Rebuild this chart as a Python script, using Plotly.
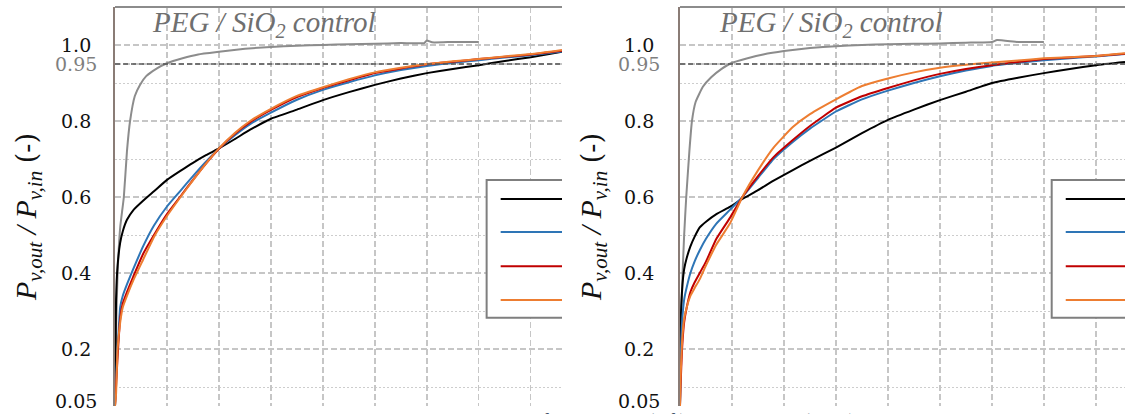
import plotly.graph_objects as go

W, H = 1125, 414

# ---------------- data ----------------
# x in grid units (one vertical grid line per unit)
# Left panel: sample 1
l_ctrl_x = [0, 0.02, 0.05, 0.1, 0.17, 0.23, 0.29, 0.38, 0.48, 0.6, 0.8, 1.0, 1.3, 1.6, 2.0, 2.5, 3.0, 3.5, 4.0, 4.5, 5.0, 5.5, 5.95, 6.0, 6.1, 6.5, 7.0]
l_ctrl_y = [0.05, 0.25, 0.40, 0.52, 0.60, 0.72, 0.80, 0.865, 0.895, 0.918, 0.938, 0.952, 0.965, 0.975, 0.982, 0.99, 0.995, 0.998, 1.0, 1.002, 1.003, 1.005, 1.005, 1.012, 1.007, 1.008, 1.008]

l_x = [0, 0.02, 0.05, 0.1, 0.15, 0.23, 0.35, 0.54, 0.75, 1.0, 1.25, 1.5, 1.75, 2.0, 2.3, 2.6, 3.0, 3.5, 4.0, 4.5, 5.0, 5.5, 6.0, 6.5, 7.0, 7.5, 8.0, 8.6]
l_black = [0.05, 0.33, 0.42, 0.48, 0.51, 0.54, 0.565, 0.59, 0.615, 0.645, 0.668, 0.69, 0.71, 0.728, 0.752, 0.777, 0.806, 0.83, 0.855, 0.876, 0.895, 0.912, 0.926, 0.937, 0.947, 0.958, 0.968, 0.982]
l_blue = [0.05, 0.12, 0.20, 0.31, 0.34, 0.37, 0.41, 0.47, 0.525, 0.575, 0.615, 0.655, 0.693, 0.727, 0.762, 0.792, 0.822, 0.856, 0.882, 0.902, 0.92, 0.934, 0.945, 0.953, 0.96, 0.967, 0.973, 0.983]
l_red = [0.05, 0.10, 0.18, 0.28, 0.32, 0.35, 0.39, 0.45, 0.50, 0.555, 0.60, 0.645, 0.688, 0.727, 0.766, 0.797, 0.829, 0.863, 0.887, 0.907, 0.926, 0.938, 0.949, 0.956, 0.963, 0.969, 0.975, 0.985]
l_orange = [0.05, 0.08, 0.20, 0.27, 0.31, 0.34, 0.38, 0.435, 0.495, 0.55, 0.598, 0.644, 0.688, 0.728, 0.768, 0.80, 0.832, 0.866, 0.889, 0.91, 0.928, 0.94, 0.95, 0.957, 0.963, 0.97, 0.976, 0.987]

# Right panel: sample 2
r_ctrl_x = [0, 0.02, 0.05, 0.08, 0.12, 0.18, 0.23, 0.3, 0.44, 0.6, 0.8, 0.98, 1.3, 1.6, 2.0, 2.5, 3.0, 3.5, 4.0, 4.5, 5.0, 5.5, 6.0, 6.1, 6.5, 7.0]
r_ctrl_y = [0.05, 0.25, 0.40, 0.50, 0.60, 0.72, 0.80, 0.85, 0.89, 0.915, 0.937, 0.952, 0.965, 0.975, 0.984, 0.992, 0.997, 1.0, 1.002, 1.003, 1.004, 1.006, 1.008, 1.013, 1.008, 1.008]

r_x = [0, 0.01, 0.04, 0.08, 0.13, 0.2, 0.28, 0.38, 0.5, 0.7, 0.96, 1.2, 1.5, 1.8, 2.17, 2.5, 3.0, 3.5, 4.0, 4.5, 5.0, 5.5, 6.0, 6.5, 7.0, 7.5, 8.0, 8.56]
r_black = [0.05, 0.25, 0.355, 0.41, 0.44, 0.47, 0.495, 0.52, 0.535, 0.555, 0.574, 0.595, 0.618, 0.643, 0.671, 0.695, 0.73, 0.768, 0.803, 0.83, 0.855, 0.877, 0.90, 0.914, 0.926, 0.937, 0.947, 0.955]
r_blue = [0.05, 0.15, 0.27, 0.33, 0.363, 0.40, 0.43, 0.46, 0.49, 0.53, 0.566, 0.60, 0.65, 0.70, 0.745, 0.78, 0.825, 0.857, 0.88, 0.90, 0.918, 0.933, 0.945, 0.953, 0.96, 0.965, 0.97, 0.976]
r_red = [0.05, 0.10, 0.20, 0.27, 0.31, 0.35, 0.375, 0.40, 0.43, 0.49, 0.545, 0.60, 0.655, 0.705, 0.75, 0.787, 0.835, 0.865, 0.887, 0.907, 0.924, 0.937, 0.947, 0.955, 0.963, 0.967, 0.971, 0.977]
r_orange = [0.05, 0.12, 0.22, 0.28, 0.31, 0.34, 0.36, 0.384, 0.42, 0.475, 0.53, 0.60, 0.67, 0.73, 0.784, 0.818, 0.857, 0.892, 0.912, 0.928, 0.94, 0.948, 0.954, 0.959, 0.965, 0.968, 0.971, 0.978]

y_tick_vals = [1.0, 0.95, 0.8, 0.6, 0.4, 0.2, 0.05]
y_tick_text = ["1.0", "0.95", "0.8", "0.6", "0.4", "0.2", "0.05"]
y_minor_vals = [0.1, 0.3, 0.5, 0.7, 0.9]
legend_rows = [0.595, 0.508, 0.418, 0.329]

title_text = "PEG / SiO<sub>2</sub> control"
ylabel = ("<i>P</i><sub><i>v,out</i></sub><i> / P</i><sub><i>v,in</i></sub> "
          "<span style='font-family:DejaVu Serif;font-size:27px'>(-)</span>")
caption = "Fig. 15. Water vapour breakthrough curves for sample 1 (left) and sample 2 (right)"

BLACK, BLUE, RED, ORANGE, GRAY = "#000000", "#2e75b6", "#c00000", "#ed7d31", "#8c8c8c"
SERIF_IT = "serif"          # italic serif
SERIF_UP = "DejaVu Serif"   # upright serif

# ---------------- figure ----------------
fig = go.Figure()

def add_panel(xa, ya, cx, cy, xs, blk, blu, red, ora):
    fig.add_trace(go.Scatter(x=cx, y=cy, mode="lines", line=dict(color=GRAY, width=2, shape="spline", smoothing=0.4),
                             xaxis=xa, yaxis=ya, showlegend=False))
    for col, ys in [(BLACK, blk), (BLUE, blu), (RED, red), (ORANGE, ora)]:
        fig.add_trace(go.Scatter(x=xs, y=ys, mode="lines", line=dict(color=col, width=2, shape="spline", smoothing=0.4),
                                 xaxis=xa, yaxis=ya, showlegend=False))

add_panel("x", "y", l_ctrl_x, l_ctrl_y, l_x, l_black, l_blue, l_red, l_orange)
add_panel("x2", "y2", r_ctrl_x, r_ctrl_y, r_x, r_black, r_blue, r_red, r_orange)

ydom = [1 - 406 / H, 1 - 7 / H]
grid = "#c6c6c6"

def xaxis_cfg(d0, d1, xmax, anchor):
    return dict(domain=[d0 / W, d1 / W], range=[0, xmax], anchor=anchor,
                dtick=1, tick0=0, showticklabels=False, ticks="",
                showgrid=True, gridcolor=grid, gridwidth=1.3, griddash="6px,3px",
                zeroline=False, showline=False, fixedrange=True)

def yaxis_cfg(anchor):
    return dict(domain=ydom, range=[0.05, 1.1], anchor=anchor,
                tickmode="array", tickvals=y_tick_vals, showticklabels=False, ticks="",
                showgrid=True, gridcolor=grid, gridwidth=1.3, griddash="6px,3px",
                minor=dict(tickmode="array", tickvals=y_minor_vals, showgrid=True,
                           gridcolor="#cdcdcd", gridwidth=1, griddash="2px,2px"),
                zeroline=False, showline=True, linecolor="#8a7c76", linewidth=2.5,
                fixedrange=True)

fig.update_layout(
    width=W, height=H, margin=dict(l=0, r=0, t=0, b=0),
    paper_bgcolor="white", plot_bgcolor="white", showlegend=False,
    font=dict(family=SERIF_UP),
    xaxis=xaxis_cfg(115, 562, 8.6, "y"),
    yaxis=yaxis_cfg("x"),
    xaxis2=xaxis_cfg(680, 1125, 8.56, "y2"),
    yaxis2=yaxis_cfg("x2"),
)

shapes = []
annotations = []
for xr, yr, lab_cx, title_x, ylab_x in [("x", "y", 76, 150, 28), ("x2", "y2", 639, 717, 593)]:
    # top border
    shapes.append(dict(type="line", xref=xr + " domain", yref=yr + " domain", x0=0, x1=1, y0=1, y1=1,
                       line=dict(color="#8c8c8c", width=2)))
    # 0.95 reference line
    shapes.append(dict(type="line", xref=xr + " domain", yref=yr, x0=0, x1=1, y0=0.95, y1=0.95,
                       line=dict(color="#555555", width=1.5, dash="5px,3px")))
    # legend box (cut off at the right edge like the reference)
    shapes.append(dict(type="rect", xref=xr, yref=yr, x0=7.15, x1=10, y0=0.282, y1=0.645,
                       line=dict(color="#7f7f7f", width=2), fillcolor="white", layer="above"))
    for col, yv in zip([BLACK, BLUE, RED, ORANGE], legend_rows):
        shapes.append(dict(type="line", xref=xr, yref=yr, x0=7.42, x1=10, y0=yv, y1=yv,
                           line=dict(color=col, width=2), layer="above"))
    # tick labels (centred like the reference)
    for v, t in zip(y_tick_vals, y_tick_text):
        yy = 0.062 if v == 0.05 else v
        annotations.append(dict(xref="paper", yref=yr, x=lab_cx / W, y=yy, text=t, showarrow=False,
                                xanchor="center", yanchor="middle",
                                font=dict(family=SERIF_UP, size=19,
                                          color="#7f7f7f" if v == 0.95 else "#111111")))
    # in-plot title
    annotations.append(dict(xref="paper", yref="paper", x=title_x / W, y=1 - 24 / H, text=title_text,
                            showarrow=False, xanchor="left", yanchor="middle",
                            font=dict(family=SERIF_IT, size=29, color="#6f6f6f", style="italic")))
    # y-axis title
    annotations.append(dict(xref="paper", yref="paper", x=ylab_x / W, y=1 - 217 / H, text=ylabel,
                            showarrow=False, textangle=-90, xanchor="center", yanchor="middle",
                            font=dict(family=SERIF_IT, size=30, color="#111111")))

annotations.append(dict(xref="paper", yref="paper", x=187 / W, y=1 - 408 / H, text=caption,
                        showarrow=False, xanchor="left", yanchor="top",
                        font=dict(family=SERIF_IT, size=20, color="#44546a", style="italic")))

fig.update_layout(shapes=shapes, annotations=annotations)

fig.write_html("out.html", config={"displayModeBar": False, "staticPlot": True},
               post_script="document.body.style.margin='0';document.body.style.overflow='hidden';")
